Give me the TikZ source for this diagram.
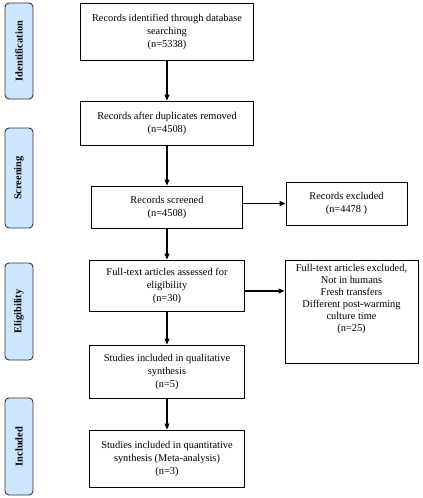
\documentclass[tikz,border=0pt]{standalone}
\usepackage{fontspec}
\setmainfont{Liberation Serif}
\usetikzlibrary{arrows.meta}
\definecolor{sideblue}{HTML}{CCE6FF}
\begin{document}
\begin{tikzpicture}[x=1pt,y=-1pt,
  box/.style={draw=black, line width=0.9pt, align=center, inner sep=1pt, font=\fontsize{10.4}{13}\selectfont},
  side/.style={draw=black!80, fill=sideblue, rounded corners=4pt, line width=0.9pt, minimum width=28},
  sidetext/.style={rotate=90, font=\bfseries\fontsize{10.4}{12}\selectfont},
  arr/.style={line width=1.1pt, -{Triangle[length=6pt,width=5pt]}}]
\useasboundingbox (0,0) rectangle (423,498);
% side labels
\node[side, minimum height=96] (s1) at (19,51) {};
\node[sidetext] (t1) at (s1.center) {Identification};
\node[side, minimum height=100] (s2) at (19,178) {};
\node[sidetext] (t2) at (s2.center) {Screening};
\node[side, minimum height=97] (s3) at (19,311.5) {};
\node[sidetext] (t3) at (s3.center) {Eligibility};
\node[side, minimum height=97] (s4) at (19,446.5) {};
\node[sidetext] (t4) at (s4.center) {Included};
% main boxes
\node[box, minimum width=173, minimum height=57] (b1) at (167,31.5) {Records identified through database\\searching\\(n=5338)};
\node[box, minimum width=173, minimum height=44] (b2) at (167,123) {Records after duplicates removed\\(n=4508)};
\node[box, minimum width=151, minimum height=42] (b3) at (167,207) {Records screened\\(n=4508)};
\node[box, minimum width=121, minimum height=43] (e1) at (346.5,203.5) {Records excluded\\(n=4478 )};
\node[box, minimum width=155, minimum height=51] (b4) at (167,285.5) {Full-text articles assessed for\\eligibility\\(n=30)};
\node[box, minimum width=133, minimum height=103] (e2) at (351.5,311.5) {};
\node[align=center, anchor=north, inner sep=0pt, font=\fontsize{10.4}{12}\selectfont] (e2t) at ([yshift=-5]e2.north) {Full-text articles excluded,\\Not in humans\\Fresh transfers\\Different post-warming\\culture time\\(n=25)};
\node[box, minimum width=155, minimum height=53] (b5) at (167,371.5) {Studies included in qualitative\\synthesis\\(n=5)};
\node[box, minimum width=155, minimum height=57] (b6) at (167,458.5) {Studies included in quantitative\\synthesis (Meta-analysis)\\(n=3)};
% arrows
\draw[arr] (b1) -- (b2);
\draw[arr] (b2) -- (b3);
\draw[arr] (b3) -- (b4);
\draw[arr] (b4) -- (b5);
\draw[arr] (b5) -- (b6);
\draw[arr] (e1.west -| b3.east) -- (e1.west);
\draw[arr] ([yshift=-5.5]b4.east) -- ([yshift=-5.5]b4.east -| e2.west);
\end{tikzpicture}
\end{document}
